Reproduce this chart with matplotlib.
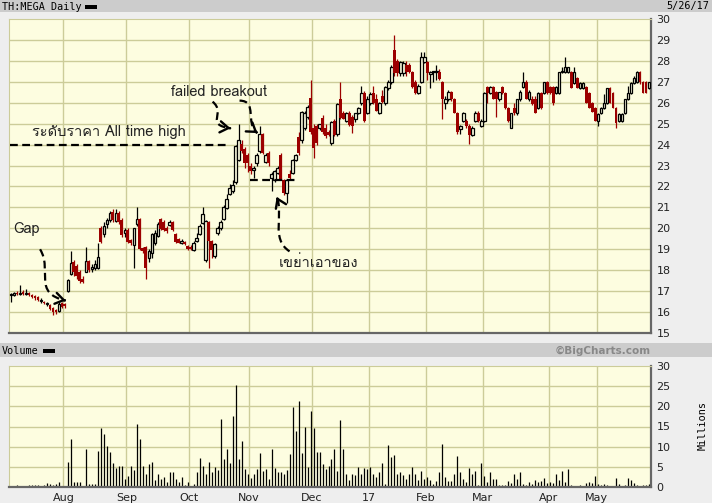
import matplotlib
matplotlib.use('Agg')
import matplotlib.pyplot as plt
from matplotlib import font_manager
from matplotlib.ft2font import FT2Font
from matplotlib.patches import Rectangle, PathPatch
from matplotlib.path import Path
import numpy as np

# daily candles TH:MEGA, mid Jul 2016 -> 26 May 2017
opens = [16.8, 16.8, 16.9, 16.85, 16.95, 16.85, 16.9, 16.8, 16.75, 16.7, 16.55, 16.5, 16.4, 16.35, 16.2, 16.1, 16.05, 16.45, 16.4,
         17.0, 17.8, 18.4, 18.2, 17.9, 17.6, 17.9, 18.45, 18.05, 18.1, 18.1, 20.0, 19.75, 20.2, 20.4, 20.8, 20.35, 20.75, 20.4, 19.8, 19.9,
         19.45, 19.2, 20.2, 20.45, 19.05, 19.1, 18.6, 18.8, 19.3, 19.65, 20.45, 20.3, 20.0, 20.15, 20.3, 19.75, 19.5, 19.3, 19.35, 19.15,
         19.1, 18.95, 19.4, 19.75, 20.25, 18.5, 20.3, 19.4, 18.7, 19.8, 20.0, 20.45, 20.95, 21.65, 21.8, 22.2, 23.25, 24.05, 23.8, 23.5,
         23.0, 22.8, 23.1, 23.7, 24.5, 23.15, 23.6, 22.4, 22.3, 22.65, 23.5, 22.3, 21.7, 22.6, 22.65, 23.25, 24.35, 24.2, 24.8, 25.3,
         26.25, 24.8, 24.9, 24.8, 25.25, 24.8, 24.6, 24.1, 25.15, 24.5, 26.2, 25.5, 25.15, 25.5, 25.3, 25.2, 25.5, 26.0, 26.45, 25.5,
         26.0, 26.45, 26.2, 25.5, 26.3, 26.0, 26.7, 27.0, 28.5, 28.0, 27.4, 27.4, 27.8, 27.8, 27.45, 27.0, 26.45, 27.0, 27.95, 27.95,
         27.35, 27.45, 27.45, 27.45, 27.0, 26.0, 26.2, 26.5, 26.2, 25.5, 24.75, 25.15, 25.15, 24.9, 24.45, 25.15, 25.5, 24.9, 25.15, 26.75,
         26.45, 26.75, 26.5, 26.2, 26.75, 26.45, 25.75, 24.8, 25.75, 25.5, 26.2, 26.75, 27.0, 26.2, 26.2, 26.2, 25.75, 26.45, 26.45, 27.0,
         26.75, 26.75, 26.45, 26.45, 27.45, 27.45, 27.45, 27.45, 26.95, 27.2, 26.7, 26.7, 26.75, 26.45, 26.0, 25.75, 25.15, 25.5, 25.75, 26.0,
         26.7, 26.45, 25.75, 25.15, 25.15, 25.5, 26.2, 26.45, 26.95, 27.0, 27.45, 27.0, 27.0, 26.7]
highs = [16.9, 16.95, 17.0, 17.3, 17.05, 17.1, 16.95, 16.85, 16.8, 16.75, 16.65, 16.55, 16.5, 16.4, 16.25, 16.15, 16.5, 16.5, 16.45,
         17.6, 18.9, 18.5, 18.3, 18.0, 17.7, 19.1, 18.5, 18.3, 18.5, 19.3, 20.1, 20.3, 20.5, 20.85, 20.9, 20.9, 20.85, 20.5, 20.0, 20.0,
         19.5, 20.0, 21.0, 20.5, 19.1, 19.15, 19.0, 19.8, 19.9, 20.3, 20.5, 20.4, 20.1, 20.4, 20.35, 19.8, 19.55, 19.5, 19.4, 19.2,
         19.2, 19.4, 19.8, 20.2, 21.0, 20.4, 20.35, 19.45, 19.3, 20.1, 20.4, 21.1, 21.65, 22.1, 22.3, 24.0, 25.0, 24.2, 23.9, 23.6,
         23.1, 23.0, 23.6, 24.9, 24.55, 23.6, 23.7, 22.7, 22.8, 23.0, 23.6, 22.35, 22.3, 22.8, 23.3, 23.55, 24.6, 25.6, 25.6, 25.9,
         27.1, 25.0, 25.0, 25.0, 25.4, 25.0, 24.7, 25.15, 25.2, 26.0, 27.0, 25.6, 25.55, 25.6, 25.4, 25.5, 25.8, 26.8, 26.55, 26.3,
         26.5, 26.8, 26.4, 26.05, 26.6, 26.8, 27.1, 27.8, 29.25, 28.1, 28.0, 28.0, 28.0, 27.9, 27.5, 27.1, 26.9, 28.4, 28.4, 28.0,
         27.5, 27.5, 27.8, 27.6, 27.05, 26.3, 26.6, 26.55, 26.25, 25.55, 24.95, 25.55, 25.2, 25.0, 24.9, 25.6, 25.6, 25.2, 26.5, 26.8,
         26.8, 26.8, 26.55, 26.5, 26.8, 26.5, 25.8, 25.5, 26.0, 26.2, 26.6, 27.45, 27.1, 26.6, 26.3, 26.3, 26.5, 26.5, 27.0, 27.05,
         26.8, 26.8, 26.8, 27.45, 27.7, 28.2, 27.7, 27.5, 27.7, 27.25, 27.0, 27.0, 26.8, 26.5, 26.05, 25.8, 25.5, 25.8, 26.4, 26.7,
         26.75, 26.5, 25.8, 25.5, 25.5, 26.2, 26.8, 27.0, 27.3, 27.5, 27.5, 27.05, 27.05, 27.0]
lows = [16.5, 16.75, 16.8, 16.8, 16.8, 16.8, 16.75, 16.65, 16.6, 16.55, 16.45, 16.4, 16.3, 16.1, 15.85, 15.9, 16.0, 16.2, 16.2,
        16.95, 17.75, 17.7, 17.6, 17.4, 17.4, 17.9, 17.9, 17.9, 18.0, 18.05, 19.3, 19.6, 20.0, 20.3, 20.3, 20.3, 20.2, 19.6, 19.6, 19.3,
        19.2, 18.1, 20.1, 18.95, 18.8, 17.6, 18.4, 18.6, 19.2, 19.6, 19.9, 19.85, 19.8, 20.1, 19.85, 19.3, 19.3, 19.25, 19.2, 18.95,
        18.95, 18.9, 19.35, 19.7, 20.2, 18.4, 18.1, 18.6, 18.6, 19.7, 19.9, 20.4, 20.9, 21.6, 21.7, 22.1, 23.2, 23.6, 22.9, 22.7,
        22.6, 22.4, 23.0, 23.6, 23.55, 23.1, 23.0, 21.8, 22.2, 22.6, 22.3, 21.6, 21.2, 22.3, 22.6, 23.2, 23.5, 24.1, 24.7, 25.2,
        24.5, 23.35, 24.0, 24.7, 24.5, 24.3, 24.4, 24.0, 24.4, 24.4, 25.2, 25.2, 25.1, 24.9, 24.55, 25.1, 25.45, 25.9, 25.1, 25.45,
        25.9, 25.95, 25.6, 25.45, 26.0, 25.9, 26.6, 26.9, 27.3, 27.3, 27.3, 27.3, 27.3, 27.4, 26.7, 26.4, 26.4, 26.95, 27.9, 27.1,
        26.7, 27.0, 27.1, 27.1, 25.2, 25.7, 26.1, 26.1, 25.5, 24.5, 24.5, 25.1, 24.8, 24.05, 24.4, 25.1, 25.1, 24.85, 25.1, 26.0,
        26.4, 26.2, 25.3, 26.1, 26.4, 25.7, 25.1, 24.8, 25.4, 25.4, 26.1, 26.7, 26.2, 26.1, 25.9, 25.5, 25.7, 25.7, 26.4, 26.4,
        26.4, 25.9, 26.4, 26.4, 27.4, 27.4, 27.4, 26.7, 26.9, 26.7, 26.65, 26.65, 26.0, 25.75, 25.55, 25.15, 24.9, 25.45, 25.7, 25.95,
        26.0, 25.75, 24.8, 25.1, 25.1, 25.45, 26.15, 26.4, 26.9, 26.95, 26.9, 26.45, 26.45, 26.65]
closes = [16.8, 16.9, 16.85, 16.9, 16.85, 16.9, 16.8, 16.7, 16.65, 16.6, 16.55, 16.45, 16.45, 16.15, 16.0, 16.0, 16.4, 16.25, 16.3,
          17.55, 18.35, 17.9, 17.7, 17.5, 17.45, 18.45, 18.0, 18.15, 18.3, 18.65, 19.35, 20.1, 20.4, 20.75, 20.4, 20.75, 20.3, 19.7, 19.9, 19.35,
          19.3, 20.0, 20.45, 19.0, 18.9, 18.1, 18.9, 19.75, 19.8, 20.2, 19.95, 19.9, 19.85, 20.3, 19.9, 19.35, 19.3, 19.4, 19.25, 19.0,
          19.0, 19.3, 19.55, 20.1, 20.7, 20.35, 19.4, 18.95, 19.25, 20.0, 20.3, 21.0, 21.4, 21.95, 22.05, 23.95, 24.2, 23.7, 23.1, 23.1,
          22.75, 22.9, 23.5, 24.5, 23.6, 23.5, 23.1, 22.6, 22.75, 22.9, 22.3, 21.7, 22.3, 22.4, 23.25, 23.5, 23.6, 25.55, 25.5, 25.8,
          24.6, 23.85, 24.1, 25.0, 24.6, 24.4, 24.45, 25.1, 24.45, 25.95, 25.25, 25.2, 25.5, 24.95, 24.9, 25.5, 25.75, 26.45, 25.15, 26.2,
          26.4, 26.0, 25.6, 26.0, 26.05, 26.75, 27.0, 27.7, 27.4, 27.4, 27.95, 27.9, 27.45, 27.45, 26.75, 26.45, 26.8, 28.2, 28.2, 27.4,
          27.45, 27.45, 27.5, 27.15, 26.2, 26.2, 26.5, 26.2, 25.5, 24.6, 24.9, 25.5, 24.9, 24.45, 24.8, 25.5, 25.15, 25.15, 26.45, 26.45,
          26.75, 26.2, 26.2, 26.5, 26.45, 25.75, 25.15, 25.5, 25.5, 26.2, 26.5, 27.0, 26.2, 26.5, 25.95, 25.5, 26.45, 25.75, 27.0, 26.45,
          26.45, 26.0, 26.75, 27.45, 27.5, 27.7, 27.7, 26.7, 27.45, 26.7, 26.95, 26.95, 26.0, 25.75, 25.55, 25.15, 25.45, 25.75, 26.0, 26.7,
          26.0, 25.75, 25.05, 25.45, 25.45, 26.2, 26.45, 26.95, 27.2, 27.45, 27.0, 26.45, 26.45, 27.0]
# volume, millions of shares
volume = [0.25, 0.25, 0.6, 0.25, 0.25, 0.2, 0.5, 0.6, 0.6, 0.4, 0.3, 0.4, 1.1, 0.8, 0.6, 0.7, 1.3, 0.3, 0.2,
          6.3, 12.0, 1.3, 1.3, 1.3, 0.3, 9.3, 0.8, 0.8, 0.8, 9.0, 14.7, 13.2, 10.2,
          8.8, 5.9, 4.7, 5.3, 5.1, 2.1, 2.8, 5.3, 4.1, 15.7, 12.0, 5.1, 3.3, 5.8, 6.3, 1.8, 3.3, 2.1, 2.4, 1.3, 3.7, 3.7,
          2.1, 1.2, 2.6, 0.6, 1.3, 0.3, 0.8, 3.7, 7.3, 5.3, 3.3, 6.3, 3.8, 5.0, 4.3, 16.9, 7.0, 9.3, 6.0, 17.7, 25.4, 7.0,
          11.5, 4.5, 3.1, 2.3, 3.3, 4.5, 8.5, 4.0, 4.5, 2.1, 9.3, 4.8, 3.8, 3.8, 3.1, 4.3, 8.3, 19.9, 14.0, 21.2, 8.5, 15.0,
          5.0, 18.9, 14.7, 8.8, 8.8, 5.8, 4.5, 5.3, 7.0, 9.3, 4.0, 16.7, 9.5, 3.3, 1.8, 3.1, 2.9, 5.0,
          3.3, 4.8, 4.5, 4.9, 3.1, 2.6, 3.8, 6.0, 0.8, 10.5, 7.5, 8.0, 3.1, 3.6, 2.9, 2.1, 3.1, 5.0, 3.1, 1.8, 4.0, 2.1,
          2.6, 1.8, 0.8, 1.6, 3.8, 10.7, 2.6, 1.6, 1.6, 3.1, 7.8, 3.6, 2.1, 1.3, 4.8, 3.3, 4.0, 0.6, 6.0, 2.8, 1.3, 3.6,
          2.1, 2.1, 0.6, 0.6, 0.6, 1.6, 1.1, 3.1, 2.1, 3.8, 0.8, 0.6, 1.3, 0.8, 1.8, 1.3, 1.6, 2.3, 1.1, 1.3, 1.1, 3.1,
          1.8, 4.0, 1.3, 4.5, 0.6, 0.3, 0.3, 0.6, 0.3, 1.1, 1.3, 1.1, 2.8, 0.8, 0.6, 0.8, 0.6, 0.3, 0.3, 2.3, 0.8, 0.1,
          0.6, 2.3, 1.8, 1.1, 0.6, 0.3, 0.6, 0.5, 0.8]
month_labels = ['Aug', 'Sep', 'Oct', 'Nov', 'Dec', '17', 'Feb', 'Mar', 'Apr', 'May']
month_start = [18, 39, 60, 80, 101, 120, 139, 158, 180, 196]

BG = '#eeeeee'
BAR = '#cccccc'
PLOT = '#fdfde0'
GRID = '#cccc99'
RED = '#9c0000'

# font with thai glyphs for the annotations
thai = None
for f in sorted(font_manager.findSystemFonts()):
    try:
        if 0x0E23 in FT2Font(f).get_charmap():
            thai = font_manager.FontProperties(fname=f).get_name()
            break
    except Exception:
        pass
ann_family = [thai, 'Noto Sans', 'DejaVu Sans'] if thai else ['Noto Sans', 'DejaVu Sans']

W, H = 712, 503
fig = plt.figure(figsize=(W / 100, H / 100), dpi=100, facecolor=BG)

def box(x0, y0, x1, y1):
    # pixel box (top-left origin) -> figure fraction rect
    return [x0 / W, 1 - y1 / H, (x1 - x0) / W, (y1 - y0) / H]

# header strips
fig.add_artist(Rectangle((0, 1 - 12 / H), 1, 12 / H, transform=fig.transFigure, color=BAR, lw=0))
fig.add_artist(Rectangle((0, 1 - 357 / H), 1, 14 / H, transform=fig.transFigure, color=BAR, lw=0))
fig.text(2 / W, 1 - 6.5 / H, 'TH:MEGA Daily', family='DejaVu Sans Mono', fontsize=7.3, va='center')
fig.add_artist(Rectangle((85 / W, 1 - 8.5 / H), 12 / W, 4 / H, transform=fig.transFigure, color='black', lw=0))
fig.text(709 / W, 1 - 6.5 / H, '5/26/17', family='DejaVu Sans Mono', fontsize=7.3, va='center', ha='right')
fig.text(2 / W, 1 - 350.5 / H, 'Volume', family='DejaVu Sans Mono', fontsize=7.3, va='center')
fig.add_artist(Rectangle((43 / W, 1 - 352.5 / H), 12 / W, 4 / H, transform=fig.transFigure, color='black', lw=0))
fig.text(651 / W, 1 - 350.5 / H, '©BigCharts.com', family='DejaVu Sans', fontsize=7.5, weight='bold',
         color='#888888', va='center', ha='right')
fig.text(703 / W, 1 - 425 / H, 'Millions', family='DejaVu Sans Mono', fontsize=7.3, rotation=90,
         va='center', ha='center')

ax = fig.add_axes(box(9, 19, 651, 333))
axv = fig.add_axes(box(9, 366, 651, 487))

idx = np.arange(len(closes))
o, h, l, c = (np.array(a) for a in (opens, highs, lows, closes))
up = c >= o
xlim = (-0.67, len(closes) - 0.33)

for a in (ax, axv):
    a.set_facecolor(PLOT)
    a.set_xlim(*xlim)
    for m in month_start:
        a.axvline(m - 0.5, color=GRID, lw=1, zorder=0)
    a.yaxis.tick_right()
    a.tick_params(axis='y', length=0, pad=4, labelsize=8, labelcolor='#222222')
    a.spines['left'].set_color(GRID)
    a.spines['top'].set_color(GRID)
    a.spines['right'].set_color('#666666')
    a.spines['bottom'].set_color('#666666')
    a.spines['right'].set_linewidth(1.6)
    a.spines['bottom'].set_linewidth(1.6)

# price panel
ax.set_ylim(15, 30)
ax.set_yticks(range(15, 31))
for y in range(16, 30):
    ax.axhline(y, color=GRID, lw=1, zorder=0)
ax.set_xticks([])
ax.vlines(idx[up], l[up], h[up], color='black', lw=0.9, zorder=2)
ax.vlines(idx[~up], l[~up], h[~up], color=RED, lw=0.9, zorder=2)
ax.bar(idx[up], np.maximum(c - o, 0.05)[up], bottom=o[up], width=0.85,
       facecolor=PLOT, edgecolor='black', lw=0.9, zorder=3)
ax.bar(idx[~up], np.maximum(o - c, 0.05)[~up], bottom=c[~up], width=0.95,
       color=RED, lw=0, zorder=3)

# volume panel
axv.set_ylim(0, 30)
axv.set_yticks(range(0, 31, 5))
for y in range(5, 30, 5):
    axv.axhline(y, color=GRID, lw=1, zorder=0)
axv.vlines(idx, 0, volume, color='black', lw=0.9, zorder=2)
axv.set_xticks([m - 0.5 for m in month_start])
axv.set_xticklabels(month_labels, fontsize=8, color='#222222')
axv.tick_params(axis='x', length=0, pad=4)

# annotations
dash = (0, (3.5, 2))

def dashed_arrow(pts, head=True):
    p = Path(pts, [Path.MOVETO, Path.CURVE4, Path.CURVE4, Path.CURVE4])
    ax.add_patch(PathPatch(p, fill=False, lw=1.6, ls=dash, color='black', zorder=5))
    if head:
        (x2, y2), (x3, y3) = pts[2], pts[3]
        ax.annotate('', xy=(x3, y3), xytext=(x3 + 0.12 * (x2 - x3), y3 + 0.12 * (y2 - y3)),
                    arrowprops=dict(arrowstyle='->,head_length=0.6,head_width=0.4', lw=1.7, color='black'),
                    zorder=6)

ax.text(5.3, 19.95, 'Gap', fontsize=10.5, family=ann_family, ha='center', va='center', color='#222222')
dashed_arrow([(9.7, 19.0), (14.0, 18.0), (7.0, 16.9), (18.3, 16.55)])

ax.plot([-0.4, 72.5], [23.97, 23.97], color='black', lw=1.6, ls=dash, zorder=5)
ax.text(7.0, 24.6, 'ระดับราคา All time high', fontsize=10.5, family=ann_family,
        ha='left', va='center', color='#222222')

ax.text(69.3, 26.5, 'failed breakout', fontsize=10.5, family=ann_family, ha='center', va='center',
        color='#222222')
dashed_arrow([(67.3, 26.05), (72.0, 25.5), (64.5, 24.95), (73.3, 24.78)])
dashed_arrow([(76.3, 26.1), (82.5, 26.1), (78.0, 25.0), (82.3, 24.55)])

ax.plot([79.7, 95.3], [22.29, 22.29], color='black', lw=1.6, ls=dash, zorder=5)
dashed_arrow([(93.0, 18.9), (86.5, 19.5), (91.2, 20.7), (88.7, 21.5)])
ax.text(102.7, 18.35, 'เขย่าเอาของ', fontsize=10.5, family=ann_family, ha='center', va='center',
        color='#222222')

fig.savefig('out.png', dpi=100, facecolor=BG)
